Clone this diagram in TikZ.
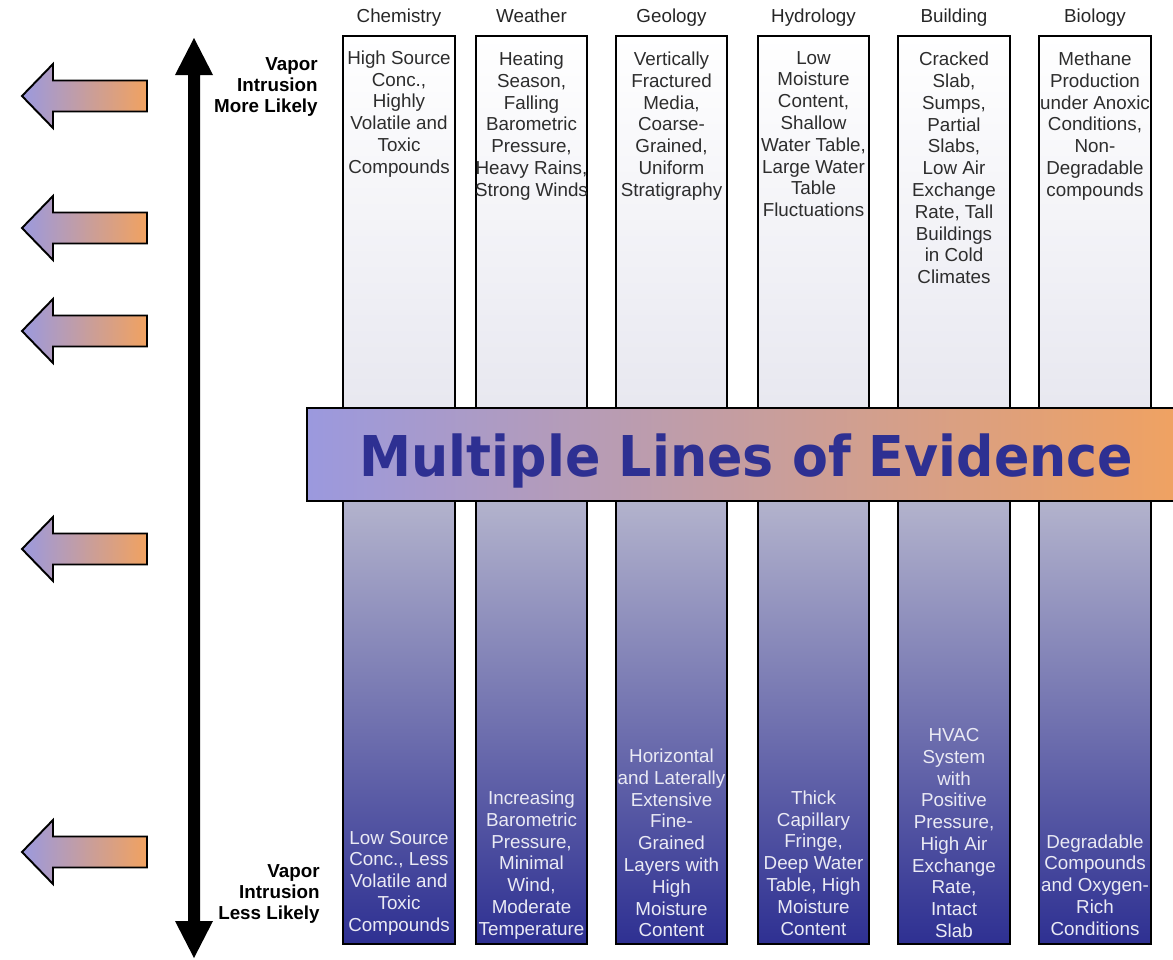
\documentclass[tikz,border=0pt]{standalone}
\usepackage{fontspec}
\setmainfont{Liberation Sans}
\newfontfamily\bannerfont{DejaVu Sans}
\usetikzlibrary{positioning}
\definecolor{lavend}{RGB}{155,153,222}
\definecolor{peach}{RGB}{241,162,96}
\definecolor{mauve}{RGB}{200,160,182}
\definecolor{evblue}{RGB}{46,48,146}
\definecolor{boxlow}{RGB}{198,198,218}
\definecolor{boxhigh}{RGB}{182,182,206}
\definecolor{toptxt}{RGB}{45,45,45}
\definecolor{bottxt}{RGB}{234,234,244}

\begin{document}
\begin{tikzpicture}[x=0.02cm, y=-0.02cm,
    colbox/.style={draw=black, line width=1.1pt,
      path picture={
        \shade[top color=white, bottom color=boxlow] (path picture bounding box.north west) rectangle (path picture bounding box.east);
        \shade[top color=boxhigh, bottom color=evblue] (path picture bounding box.west) rectangle (path picture bounding box.south east);}},
    leftarrow/.style={draw=black, line width=1.1pt, line join=miter, left color=lavend, right color=peach},
    hdr/.style={inner sep=0pt, anchor=base, text=black!85, font=\fontsize{10.7}{12.4}\selectfont},
    toptext/.style={align=center, inner sep=0pt, text=toptxt, font=\fontsize{10.7}{12.4}\selectfont},
    bottext/.style={align=center, inner sep=0pt, text=bottxt, font=\fontsize{10.7}{12.4}\selectfont},
    likely/.style={align=right, inner sep=0pt, anchor=east, font=\fontsize{10.7}{12}\selectfont\bfseries}]

        \useasboundingbox (0,0) rectangle (1173,960);

        % arrows on the left
        \draw[leftarrow, shift={(0,96)}] (22,0) -- (53,-32) -- (53,-15.5) -- (147,-15.5) -- (147,15.5) -- (53,15.5) -- (53,32) -- cycle;
        \draw[leftarrow, shift={(0,228)}] (22,0) -- (53,-32) -- (53,-15.5) -- (147,-15.5) -- (147,15.5) -- (53,15.5) -- (53,32) -- cycle;
        \draw[leftarrow, shift={(0,331)}] (22,0) -- (53,-32) -- (53,-15.5) -- (147,-15.5) -- (147,15.5) -- (53,15.5) -- (53,32) -- cycle;
        \draw[leftarrow, shift={(0,549)}] (22,0) -- (53,-32) -- (53,-15.5) -- (147,-15.5) -- (147,15.5) -- (53,15.5) -- (53,32) -- cycle;
        \draw[leftarrow, shift={(0,852)}] (22,0) -- (53,-32) -- (53,-15.5) -- (147,-15.5) -- (147,15.5) -- (53,15.5) -- (53,32) -- cycle;

        % double arrow
        \fill (194,38) -- (213,75) -- (200,75) -- (200,921) -- (213,921) -- (194,958) -- (175,921) -- (188,921) -- (188,75) -- (175,75) -- cycle;
        \node[likely] (more) at (318,87) {Vapor\\Intrusion\\More Likely};
        \node[likely] (less) at (320,894) {Vapor\\Intrusion\\Less Likely};

        % columns
        \draw[colbox] (343,36) rectangle (455,944);
        \draw[colbox] (476,36) rectangle (587,944);
        \draw[colbox] (616,36) rectangle (727,944);
        \draw[colbox] (758,36) rectangle (869,944);
        \draw[colbox] (898,36) rectangle (1010,944);
        \draw[colbox] (1039,36) rectangle (1151,944);

        \node[hdr] (chem) at (399,22) {Chemistry};
        \node[hdr] (weather) at (531.5,22) {Weather};
        \node[hdr] (geol) at (671.5,22) {Geology};
        \node[hdr] (hydro) at (813.5,22) {Hydrology};
        \node[hdr] (build) at (954,22) {Building};
        \node[hdr] (bio) at (1095,22) {Biology};

        \node[toptext] (chemtop) at (399,114) {High Source\\Conc.,\\Highly\\Volatile and\\Toxic\\Compounds};
        \node[toptext] (weathertop) at (531.5,126) {Heating\\Season,\\Falling\\Barometric\\Pressure,\\Heavy Rains,\\Strong Winds};
        \node[toptext] (geoltop) at (671.5,126) {Vertically\\Fractured\\Media,\\Coarse-\\Grained,\\Uniform\\Stratigraphy};
        \node[toptext] (hydrotop) at (813.5,134) {Low\\Moisture\\Content,\\Shallow\\Water Table,\\Large Water\\Table\\Fluctuations};
        \node[toptext] (buildtop) at (954,168) {Cracked\\Slab,\\Sumps,\\Partial\\Slabs,\\Low Air\\Exchange\\Rate, Tall\\Buildings\\in Cold\\Climates};
        \node[toptext] (biotop) at (1095,126) {Methane\\Production\\under Anoxic\\Conditions,\\Non-\\Degradable\\compounds};

        \node[bottext] (chembot) at (399,883) {Low Source\\Conc., Less\\Volatile and\\Toxic\\Compounds};
        \node[bottext] (weatherbot) at (531.5,865) {Increasing\\Barometric\\Pressure,\\Minimal\\Wind,\\Moderate\\Temperature};
        \node[bottext] (geolbot) at (671.5,843) {Horizontal\\and Laterally\\Extensive\\Fine-\\Grained\\Layers with\\High\\Moisture\\Content};
        \node[bottext] (hydrobot) at (813.5,863) {Thick\\Capillary\\Fringe,\\Deep Water\\Table, High\\Moisture\\Content};
        \node[bottext] (buildbot) at (954,833) {HVAC\\System\\with\\Positive\\Pressure,\\High Air\\Exchange\\Rate,\\Intact\\Slab};
        \node[bottext] (biobot) at (1095,885) {Degradable\\Compounds\\and Oxygen-\\Rich\\Conditions};

        % banner
        \shade[draw=black, line width=1.1pt, left color=lavend, middle color=mauve, right color=peach] (307,408) rectangle (1190,501);
        \node[anchor=base, inner sep=0pt, xscale=0.93, text=evblue, font=\bannerfont\bfseries\fontsize{32}{36}\selectfont] (mloe) at (746.5,476) {Multiple Lines of Evidence};

\end{tikzpicture}
\end{document}
